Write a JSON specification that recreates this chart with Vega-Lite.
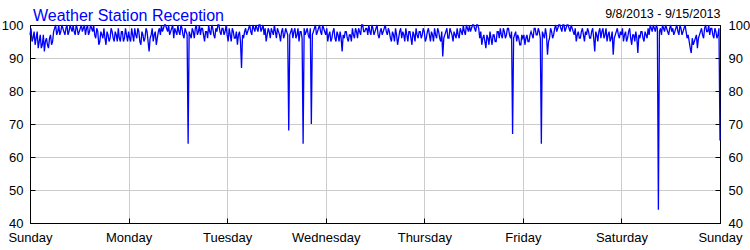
{
"$schema": "https://vega.github.io/schema/vega-lite/v6.json",
"width": 690, "height": 198,
"autosize": {"type": "none"},
"padding": {"left": 30, "top": 25, "right": 30, "bottom": 27},
"background": "white",
"title": {"text": "Weather Station Reception", "anchor": "start", "frame": "group", "color": "#0000ff", "font": "Liberation Sans", "fontSize": 16, "fontWeight": "normal", "dx": 3, "offset": -29, "baseline": "alphabetic"},
"data": {"values": [
{"t":"2013-09-08T00:00","v":97},{"t":"2013-09-08T00:15","v":99},{"t":"2013-09-08T00:30","v":95},{"t":"2013-09-08T00:45","v":96},{"t":"2013-09-08T01:00","v":98},{"t":"2013-09-08T01:15","v":94},{"t":"2013-09-08T01:30","v":96},{"t":"2013-09-08T01:45","v":98},{"t":"2013-09-08T02:00","v":93},{"t":"2013-09-08T02:15","v":95},{"t":"2013-09-08T02:30","v":97},{"t":"2013-09-08T02:45","v":93},
{"t":"2013-09-08T03:00","v":94},{"t":"2013-09-08T03:15","v":97},{"t":"2013-09-08T03:30","v":92},{"t":"2013-09-08T03:45","v":95},{"t":"2013-09-08T04:00","v":96},{"t":"2013-09-08T04:15","v":94},{"t":"2013-09-08T04:30","v":93},{"t":"2013-09-08T04:45","v":96},{"t":"2013-09-08T05:00","v":97},{"t":"2013-09-08T05:15","v":94},{"t":"2013-09-08T05:30","v":95},{"t":"2013-09-08T05:45","v":98},
{"t":"2013-09-08T06:00","v":99},{"t":"2013-09-08T06:15","v":100},{"t":"2013-09-08T06:30","v":97},{"t":"2013-09-08T06:45","v":98},{"t":"2013-09-08T07:00","v":100},{"t":"2013-09-08T07:15","v":97},{"t":"2013-09-08T07:30","v":98},{"t":"2013-09-08T07:45","v":100},{"t":"2013-09-08T08:00","v":99},{"t":"2013-09-08T08:15","v":98},{"t":"2013-09-08T08:30","v":97},{"t":"2013-09-08T08:45","v":99},
{"t":"2013-09-08T09:00","v":100},{"t":"2013-09-08T09:15","v":97},{"t":"2013-09-08T09:30","v":98},{"t":"2013-09-08T09:45","v":100},{"t":"2013-09-08T10:00","v":99},{"t":"2013-09-08T10:15","v":98},{"t":"2013-09-08T10:30","v":100},{"t":"2013-09-08T10:45","v":98},{"t":"2013-09-08T11:00","v":97},{"t":"2013-09-08T11:15","v":100},{"t":"2013-09-08T11:30","v":99},{"t":"2013-09-08T11:45","v":97},
{"t":"2013-09-08T12:00","v":98},{"t":"2013-09-08T12:15","v":99},{"t":"2013-09-08T12:30","v":100},{"t":"2013-09-08T12:45","v":98},{"t":"2013-09-08T13:00","v":99},{"t":"2013-09-08T13:15","v":100},{"t":"2013-09-08T13:30","v":97},{"t":"2013-09-08T13:45","v":99},{"t":"2013-09-08T14:00","v":100},{"t":"2013-09-08T14:15","v":97},{"t":"2013-09-08T14:30","v":98},{"t":"2013-09-08T14:45","v":100},
{"t":"2013-09-08T15:00","v":99},{"t":"2013-09-08T15:15","v":98},{"t":"2013-09-08T15:30","v":100},{"t":"2013-09-08T15:45","v":97},{"t":"2013-09-08T16:00","v":96},{"t":"2013-09-08T16:15","v":99},{"t":"2013-09-08T16:30","v":98},{"t":"2013-09-08T16:45","v":94},{"t":"2013-09-08T17:00","v":95},{"t":"2013-09-08T17:15","v":98},{"t":"2013-09-08T17:30","v":97},{"t":"2013-09-08T17:45","v":96},
{"t":"2013-09-08T18:00","v":99},{"t":"2013-09-08T18:15","v":96},{"t":"2013-09-08T18:30","v":94},{"t":"2013-09-08T18:45","v":98},{"t":"2013-09-08T19:00","v":97},{"t":"2013-09-08T19:15","v":95},{"t":"2013-09-08T19:30","v":96},{"t":"2013-09-08T19:45","v":99},{"t":"2013-09-08T20:00","v":98},{"t":"2013-09-08T20:15","v":96},{"t":"2013-09-08T20:30","v":95},{"t":"2013-09-08T20:45","v":98},
{"t":"2013-09-08T21:00","v":97},{"t":"2013-09-08T21:15","v":95},{"t":"2013-09-08T21:30","v":99},{"t":"2013-09-08T21:45","v":96},{"t":"2013-09-08T22:00","v":95},{"t":"2013-09-08T22:15","v":98},{"t":"2013-09-08T22:30","v":98},{"t":"2013-09-08T22:45","v":95},{"t":"2013-09-08T23:00","v":96},{"t":"2013-09-08T23:15","v":99},{"t":"2013-09-08T23:30","v":97},{"t":"2013-09-08T23:45","v":95},
{"t":"2013-09-09T00:00","v":98},{"t":"2013-09-09T00:15","v":96},{"t":"2013-09-09T00:30","v":95},{"t":"2013-09-09T00:45","v":99},{"t":"2013-09-09T01:00","v":97},{"t":"2013-09-09T01:15","v":95},{"t":"2013-09-09T01:30","v":99},{"t":"2013-09-09T01:45","v":97},{"t":"2013-09-09T02:00","v":96},{"t":"2013-09-09T02:15","v":99},{"t":"2013-09-09T02:30","v":98},{"t":"2013-09-09T02:45","v":95},
{"t":"2013-09-09T03:00","v":94},{"t":"2013-09-09T03:15","v":98},{"t":"2013-09-09T03:30","v":97},{"t":"2013-09-09T03:45","v":95},{"t":"2013-09-09T04:00","v":96},{"t":"2013-09-09T04:15","v":99},{"t":"2013-09-09T04:30","v":98},{"t":"2013-09-09T04:45","v":95},{"t":"2013-09-09T05:00","v":92},{"t":"2013-09-09T05:15","v":96},{"t":"2013-09-09T05:30","v":97},{"t":"2013-09-09T05:45","v":99},
{"t":"2013-09-09T06:00","v":95},{"t":"2013-09-09T06:15","v":97},{"t":"2013-09-09T06:30","v":98},{"t":"2013-09-09T06:45","v":94},{"t":"2013-09-09T07:00","v":96},{"t":"2013-09-09T07:15","v":98},{"t":"2013-09-09T07:30","v":99},{"t":"2013-09-09T07:45","v":97},{"t":"2013-09-09T08:00","v":100},{"t":"2013-09-09T08:15","v":98},{"t":"2013-09-09T08:30","v":99},{"t":"2013-09-09T08:45","v":100},
{"t":"2013-09-09T09:00","v":100},{"t":"2013-09-09T09:15","v":99},{"t":"2013-09-09T09:30","v":98},{"t":"2013-09-09T09:45","v":100},{"t":"2013-09-09T10:00","v":97},{"t":"2013-09-09T10:15","v":98},{"t":"2013-09-09T10:30","v":99},{"t":"2013-09-09T10:45","v":100},{"t":"2013-09-09T11:00","v":96},{"t":"2013-09-09T11:15","v":99},{"t":"2013-09-09T11:30","v":98},{"t":"2013-09-09T11:45","v":97},
{"t":"2013-09-09T12:00","v":100},{"t":"2013-09-09T12:15","v":98},{"t":"2013-09-09T12:30","v":97},{"t":"2013-09-09T12:45","v":100},{"t":"2013-09-09T13:00","v":99},{"t":"2013-09-09T13:15","v":97},{"t":"2013-09-09T13:30","v":96},{"t":"2013-09-09T13:45","v":99},{"t":"2013-09-09T14:00","v":98},{"t":"2013-09-09T14:15","v":97},{"t":"2013-09-09T14:30","v":64},{"t":"2013-09-09T14:45","v":98},
{"t":"2013-09-09T15:00","v":97},{"t":"2013-09-09T15:15","v":96},{"t":"2013-09-09T15:30","v":99},{"t":"2013-09-09T15:45","v":98},{"t":"2013-09-09T16:00","v":96},{"t":"2013-09-09T16:15","v":99},{"t":"2013-09-09T16:30","v":100},{"t":"2013-09-09T16:45","v":97},{"t":"2013-09-09T17:00","v":98},{"t":"2013-09-09T17:15","v":100},{"t":"2013-09-09T17:30","v":97},{"t":"2013-09-09T17:45","v":99},
{"t":"2013-09-09T18:00","v":99},{"t":"2013-09-09T18:15","v":97},{"t":"2013-09-09T18:30","v":95},{"t":"2013-09-09T18:45","v":98},{"t":"2013-09-09T19:00","v":98},{"t":"2013-09-09T19:15","v":96},{"t":"2013-09-09T19:30","v":100},{"t":"2013-09-09T19:45","v":98},{"t":"2013-09-09T20:00","v":97},{"t":"2013-09-09T20:15","v":100},{"t":"2013-09-09T20:30","v":99},{"t":"2013-09-09T20:45","v":97},
{"t":"2013-09-09T21:00","v":96},{"t":"2013-09-09T21:15","v":99},{"t":"2013-09-09T21:30","v":98},{"t":"2013-09-09T21:45","v":100},{"t":"2013-09-09T22:00","v":100},{"t":"2013-09-09T22:15","v":98},{"t":"2013-09-09T22:30","v":97},{"t":"2013-09-09T22:45","v":99},{"t":"2013-09-09T23:00","v":99},{"t":"2013-09-09T23:15","v":97},{"t":"2013-09-09T23:30","v":98},{"t":"2013-09-09T23:45","v":100},
{"t":"2013-09-10T00:00","v":97},{"t":"2013-09-10T00:15","v":95},{"t":"2013-09-10T00:30","v":99},{"t":"2013-09-10T00:45","v":97},{"t":"2013-09-10T01:00","v":95},{"t":"2013-09-10T01:15","v":99},{"t":"2013-09-10T01:30","v":98},{"t":"2013-09-10T01:45","v":96},{"t":"2013-09-10T02:00","v":96},{"t":"2013-09-10T02:15","v":98},{"t":"2013-09-10T02:30","v":94},{"t":"2013-09-10T02:45","v":97},
{"t":"2013-09-10T03:00","v":98},{"t":"2013-09-10T03:15","v":95},{"t":"2013-09-10T03:30","v":87},{"t":"2013-09-10T03:45","v":97},{"t":"2013-09-10T04:00","v":96},{"t":"2013-09-10T04:15","v":98},{"t":"2013-09-10T04:30","v":99},{"t":"2013-09-10T04:45","v":97},{"t":"2013-09-10T05:00","v":98},{"t":"2013-09-10T05:15","v":99},{"t":"2013-09-10T05:30","v":100},{"t":"2013-09-10T05:45","v":98},
{"t":"2013-09-10T06:00","v":97},{"t":"2013-09-10T06:15","v":100},{"t":"2013-09-10T06:30","v":99},{"t":"2013-09-10T06:45","v":98},{"t":"2013-09-10T07:00","v":100},{"t":"2013-09-10T07:15","v":99},{"t":"2013-09-10T07:30","v":98},{"t":"2013-09-10T07:45","v":100},{"t":"2013-09-10T08:00","v":100},{"t":"2013-09-10T08:15","v":98},{"t":"2013-09-10T08:30","v":99},{"t":"2013-09-10T08:45","v":100},
{"t":"2013-09-10T09:00","v":97},{"t":"2013-09-10T09:15","v":99},{"t":"2013-09-10T09:30","v":95},{"t":"2013-09-10T09:45","v":97},{"t":"2013-09-10T10:00","v":99},{"t":"2013-09-10T10:15","v":98},{"t":"2013-09-10T10:30","v":96},{"t":"2013-09-10T10:45","v":99},{"t":"2013-09-10T11:00","v":98},{"t":"2013-09-10T11:15","v":97},{"t":"2013-09-10T11:30","v":100},{"t":"2013-09-10T11:45","v":98},
{"t":"2013-09-10T12:00","v":96},{"t":"2013-09-10T12:15","v":99},{"t":"2013-09-10T12:30","v":98},{"t":"2013-09-10T12:45","v":97},{"t":"2013-09-10T13:00","v":95},{"t":"2013-09-10T13:15","v":98},{"t":"2013-09-10T13:30","v":99},{"t":"2013-09-10T13:45","v":96},{"t":"2013-09-10T14:00","v":97},{"t":"2013-09-10T14:15","v":99},{"t":"2013-09-10T14:30","v":98},{"t":"2013-09-10T14:45","v":97},
{"t":"2013-09-10T15:00","v":68},{"t":"2013-09-10T15:15","v":97},{"t":"2013-09-10T15:30","v":98},{"t":"2013-09-10T15:45","v":99},{"t":"2013-09-10T16:00","v":96},{"t":"2013-09-10T16:15","v":98},{"t":"2013-09-10T16:30","v":99},{"t":"2013-09-10T16:45","v":96},{"t":"2013-09-10T17:00","v":97},{"t":"2013-09-10T17:15","v":99},{"t":"2013-09-10T17:30","v":95},{"t":"2013-09-10T17:45","v":98},
{"t":"2013-09-10T18:00","v":98},{"t":"2013-09-10T18:15","v":96},{"t":"2013-09-10T18:30","v":64},{"t":"2013-09-10T18:45","v":99},{"t":"2013-09-10T19:00","v":97},{"t":"2013-09-10T19:15","v":98},{"t":"2013-09-10T19:30","v":99},{"t":"2013-09-10T19:45","v":97},{"t":"2013-09-10T20:00","v":96},{"t":"2013-09-10T20:15","v":99},{"t":"2013-09-10T20:30","v":70},{"t":"2013-09-10T20:45","v":97},
{"t":"2013-09-10T21:00","v":98},{"t":"2013-09-10T21:15","v":99},{"t":"2013-09-10T21:30","v":100},{"t":"2013-09-10T21:45","v":97},{"t":"2013-09-10T22:00","v":98},{"t":"2013-09-10T22:15","v":99},{"t":"2013-09-10T22:30","v":100},{"t":"2013-09-10T22:45","v":98},{"t":"2013-09-10T23:00","v":97},{"t":"2013-09-10T23:15","v":100},{"t":"2013-09-10T23:30","v":99},{"t":"2013-09-10T23:45","v":98},
{"t":"2013-09-11T00:00","v":97},{"t":"2013-09-11T00:15","v":99},{"t":"2013-09-11T00:30","v":95},{"t":"2013-09-11T00:45","v":97},{"t":"2013-09-11T01:00","v":98},{"t":"2013-09-11T01:15","v":95},{"t":"2013-09-11T01:30","v":96},{"t":"2013-09-11T01:45","v":98},{"t":"2013-09-11T02:00","v":99},{"t":"2013-09-11T02:15","v":96},{"t":"2013-09-11T02:30","v":95},{"t":"2013-09-11T02:45","v":98},
{"t":"2013-09-11T03:00","v":97},{"t":"2013-09-11T03:15","v":95},{"t":"2013-09-11T03:30","v":98},{"t":"2013-09-11T03:45","v":96},{"t":"2013-09-11T04:00","v":92},{"t":"2013-09-11T04:15","v":97},{"t":"2013-09-11T04:30","v":96},{"t":"2013-09-11T04:45","v":98},{"t":"2013-09-11T05:00","v":98},{"t":"2013-09-11T05:15","v":96},{"t":"2013-09-11T05:30","v":95},{"t":"2013-09-11T05:45","v":97},
{"t":"2013-09-11T06:00","v":97},{"t":"2013-09-11T06:15","v":95},{"t":"2013-09-11T06:30","v":99},{"t":"2013-09-11T06:45","v":97},{"t":"2013-09-11T07:00","v":96},{"t":"2013-09-11T07:15","v":99},{"t":"2013-09-11T07:30","v":98},{"t":"2013-09-11T07:45","v":96},{"t":"2013-09-11T08:00","v":99},{"t":"2013-09-11T08:15","v":98},{"t":"2013-09-11T08:30","v":97},{"t":"2013-09-11T08:45","v":100},
{"t":"2013-09-11T09:00","v":100},{"t":"2013-09-11T09:15","v":98},{"t":"2013-09-11T09:30","v":98},{"t":"2013-09-11T09:45","v":99},{"t":"2013-09-11T10:00","v":99},{"t":"2013-09-11T10:15","v":97},{"t":"2013-09-11T10:30","v":100},{"t":"2013-09-11T10:45","v":98},{"t":"2013-09-11T11:00","v":97},{"t":"2013-09-11T11:15","v":100},{"t":"2013-09-11T11:30","v":99},{"t":"2013-09-11T11:45","v":97},
{"t":"2013-09-11T12:00","v":98},{"t":"2013-09-11T12:15","v":99},{"t":"2013-09-11T12:30","v":100},{"t":"2013-09-11T12:45","v":97},{"t":"2013-09-11T13:00","v":96},{"t":"2013-09-11T13:15","v":98},{"t":"2013-09-11T13:30","v":99},{"t":"2013-09-11T13:45","v":97},{"t":"2013-09-11T14:00","v":98},{"t":"2013-09-11T14:15","v":99},{"t":"2013-09-11T14:30","v":100},{"t":"2013-09-11T14:45","v":98},
{"t":"2013-09-11T15:00","v":97},{"t":"2013-09-11T15:15","v":99},{"t":"2013-09-11T15:30","v":98},{"t":"2013-09-11T15:45","v":96},{"t":"2013-09-11T16:00","v":95},{"t":"2013-09-11T16:15","v":98},{"t":"2013-09-11T16:30","v":97},{"t":"2013-09-11T16:45","v":95},{"t":"2013-09-11T17:00","v":99},{"t":"2013-09-11T17:15","v":97},{"t":"2013-09-11T17:30","v":94},{"t":"2013-09-11T17:45","v":96},
{"t":"2013-09-11T18:00","v":98},{"t":"2013-09-11T18:15","v":99},{"t":"2013-09-11T18:30","v":96},{"t":"2013-09-11T18:45","v":98},{"t":"2013-09-11T19:00","v":97},{"t":"2013-09-11T19:15","v":95},{"t":"2013-09-11T19:30","v":99},{"t":"2013-09-11T19:45","v":97},{"t":"2013-09-11T20:00","v":95},{"t":"2013-09-11T20:15","v":98},{"t":"2013-09-11T20:30","v":98},{"t":"2013-09-11T20:45","v":96},
{"t":"2013-09-11T21:00","v":94},{"t":"2013-09-11T21:15","v":98},{"t":"2013-09-11T21:30","v":97},{"t":"2013-09-11T21:45","v":95},{"t":"2013-09-11T22:00","v":99},{"t":"2013-09-11T22:15","v":97},{"t":"2013-09-11T22:30","v":96},{"t":"2013-09-11T22:45","v":98},{"t":"2013-09-11T23:00","v":98},{"t":"2013-09-11T23:15","v":96},{"t":"2013-09-11T23:30","v":97},{"t":"2013-09-11T23:45","v":99},
{"t":"2013-09-12T00:00","v":98},{"t":"2013-09-12T00:15","v":95},{"t":"2013-09-12T00:30","v":96},{"t":"2013-09-12T00:45","v":98},{"t":"2013-09-12T01:00","v":99},{"t":"2013-09-12T01:15","v":97},{"t":"2013-09-12T01:30","v":95},{"t":"2013-09-12T01:45","v":98},{"t":"2013-09-12T02:00","v":97},{"t":"2013-09-12T02:15","v":95},{"t":"2013-09-12T02:30","v":99},{"t":"2013-09-12T02:45","v":97},
{"t":"2013-09-12T03:00","v":96},{"t":"2013-09-12T03:15","v":99},{"t":"2013-09-12T03:30","v":98},{"t":"2013-09-12T03:45","v":96},{"t":"2013-09-12T04:00","v":95},{"t":"2013-09-12T04:15","v":98},{"t":"2013-09-12T04:30","v":90.5},{"t":"2013-09-12T04:45","v":96},{"t":"2013-09-12T05:00","v":97},{"t":"2013-09-12T05:15","v":98},{"t":"2013-09-12T05:30","v":99},{"t":"2013-09-12T05:45","v":96},
{"t":"2013-09-12T06:00","v":96},{"t":"2013-09-12T06:15","v":99},{"t":"2013-09-12T06:30","v":98},{"t":"2013-09-12T06:45","v":97},{"t":"2013-09-12T07:00","v":95},{"t":"2013-09-12T07:15","v":98},{"t":"2013-09-12T07:30","v":97},{"t":"2013-09-12T07:45","v":96},{"t":"2013-09-12T08:00","v":99},{"t":"2013-09-12T08:15","v":97},{"t":"2013-09-12T08:30","v":96},{"t":"2013-09-12T08:45","v":99},
{"t":"2013-09-12T09:00","v":98},{"t":"2013-09-12T09:15","v":97},{"t":"2013-09-12T09:30","v":100},{"t":"2013-09-12T09:45","v":98},{"t":"2013-09-12T10:00","v":97},{"t":"2013-09-12T10:15","v":100},{"t":"2013-09-12T10:30","v":99},{"t":"2013-09-12T10:45","v":98},{"t":"2013-09-12T11:00","v":100},{"t":"2013-09-12T11:15","v":98},{"t":"2013-09-12T11:30","v":99},{"t":"2013-09-12T11:45","v":100},
{"t":"2013-09-12T12:00","v":100},{"t":"2013-09-12T12:15","v":99},{"t":"2013-09-12T12:30","v":98},{"t":"2013-09-12T12:45","v":100},{"t":"2013-09-12T13:00","v":100},{"t":"2013-09-12T13:15","v":99},{"t":"2013-09-12T13:30","v":96},{"t":"2013-09-12T13:45","v":98},{"t":"2013-09-12T14:00","v":94},{"t":"2013-09-12T14:15","v":96},{"t":"2013-09-12T14:30","v":97},{"t":"2013-09-12T14:45","v":95},
{"t":"2013-09-12T15:00","v":93},{"t":"2013-09-12T15:15","v":97},{"t":"2013-09-12T15:30","v":96},{"t":"2013-09-12T15:45","v":94},{"t":"2013-09-12T16:00","v":98},{"t":"2013-09-12T16:15","v":96},{"t":"2013-09-12T16:30","v":94},{"t":"2013-09-12T16:45","v":97},{"t":"2013-09-12T17:00","v":97},{"t":"2013-09-12T17:15","v":95},{"t":"2013-09-12T17:30","v":95},{"t":"2013-09-12T17:45","v":98},
{"t":"2013-09-12T18:00","v":98},{"t":"2013-09-12T18:15","v":96},{"t":"2013-09-12T18:30","v":99},{"t":"2013-09-12T18:45","v":97},{"t":"2013-09-12T19:00","v":96},{"t":"2013-09-12T19:15","v":99},{"t":"2013-09-12T19:30","v":98},{"t":"2013-09-12T19:45","v":96},{"t":"2013-09-12T20:00","v":97},{"t":"2013-09-12T20:15","v":99},{"t":"2013-09-12T20:30","v":99},{"t":"2013-09-12T20:45","v":97},
{"t":"2013-09-12T21:00","v":96},{"t":"2013-09-12T21:15","v":98},{"t":"2013-09-12T21:30","v":67},{"t":"2013-09-12T21:45","v":96},{"t":"2013-09-12T22:00","v":97},{"t":"2013-09-12T22:15","v":98},{"t":"2013-09-12T22:30","v":95},{"t":"2013-09-12T22:45","v":97},{"t":"2013-09-12T23:00","v":96},{"t":"2013-09-12T23:15","v":94},{"t":"2013-09-12T23:30","v":94},{"t":"2013-09-12T23:45","v":97},
{"t":"2013-09-13T00:00","v":96},{"t":"2013-09-13T00:15","v":97},{"t":"2013-09-13T00:30","v":94},{"t":"2013-09-13T00:45","v":96},{"t":"2013-09-13T01:00","v":97},{"t":"2013-09-13T01:15","v":95},{"t":"2013-09-13T01:30","v":95},{"t":"2013-09-13T01:45","v":97},{"t":"2013-09-13T02:00","v":98},{"t":"2013-09-13T02:15","v":97},{"t":"2013-09-13T02:30","v":96},{"t":"2013-09-13T02:45","v":99},
{"t":"2013-09-13T03:00","v":99},{"t":"2013-09-13T03:15","v":97},{"t":"2013-09-13T03:30","v":97},{"t":"2013-09-13T03:45","v":99},{"t":"2013-09-13T04:00","v":98},{"t":"2013-09-13T04:15","v":96},{"t":"2013-09-13T04:30","v":64},{"t":"2013-09-13T04:45","v":98},{"t":"2013-09-13T05:00","v":97},{"t":"2013-09-13T05:15","v":96},{"t":"2013-09-13T05:30","v":99},{"t":"2013-09-13T05:45","v":97},
{"t":"2013-09-13T06:00","v":91},{"t":"2013-09-13T06:15","v":95},{"t":"2013-09-13T06:30","v":96},{"t":"2013-09-13T06:45","v":99},{"t":"2013-09-13T07:00","v":98},{"t":"2013-09-13T07:15","v":96},{"t":"2013-09-13T07:30","v":97},{"t":"2013-09-13T07:45","v":99},{"t":"2013-09-13T08:00","v":100},{"t":"2013-09-13T08:15","v":98},{"t":"2013-09-13T08:30","v":99},{"t":"2013-09-13T08:45","v":100},
{"t":"2013-09-13T09:00","v":100},{"t":"2013-09-13T09:15","v":99},{"t":"2013-09-13T09:30","v":98},{"t":"2013-09-13T09:45","v":100},{"t":"2013-09-13T10:00","v":100},{"t":"2013-09-13T10:15","v":98},{"t":"2013-09-13T10:30","v":99},{"t":"2013-09-13T10:45","v":100},{"t":"2013-09-13T11:00","v":100},{"t":"2013-09-13T11:15","v":99},{"t":"2013-09-13T11:30","v":98},{"t":"2013-09-13T11:45","v":100},
{"t":"2013-09-13T12:00","v":99},{"t":"2013-09-13T12:15","v":98},{"t":"2013-09-13T12:30","v":97},{"t":"2013-09-13T12:45","v":99},{"t":"2013-09-13T13:00","v":95},{"t":"2013-09-13T13:15","v":97},{"t":"2013-09-13T13:30","v":98},{"t":"2013-09-13T13:45","v":96},{"t":"2013-09-13T14:00","v":96},{"t":"2013-09-13T14:15","v":98},{"t":"2013-09-13T14:30","v":99},{"t":"2013-09-13T14:45","v":97},
{"t":"2013-09-13T15:00","v":95},{"t":"2013-09-13T15:15","v":98},{"t":"2013-09-13T15:30","v":97},{"t":"2013-09-13T15:45","v":99},{"t":"2013-09-13T16:00","v":98},{"t":"2013-09-13T16:15","v":96},{"t":"2013-09-13T16:30","v":96},{"t":"2013-09-13T16:45","v":98},{"t":"2013-09-13T17:00","v":99},{"t":"2013-09-13T17:15","v":96},{"t":"2013-09-13T17:30","v":92},{"t":"2013-09-13T17:45","v":98},
{"t":"2013-09-13T18:00","v":97},{"t":"2013-09-13T18:15","v":95},{"t":"2013-09-13T18:30","v":98},{"t":"2013-09-13T18:45","v":99},{"t":"2013-09-13T19:00","v":96},{"t":"2013-09-13T19:15","v":98},{"t":"2013-09-13T19:30","v":99},{"t":"2013-09-13T19:45","v":96},{"t":"2013-09-13T20:00","v":97},{"t":"2013-09-13T20:15","v":99},{"t":"2013-09-13T20:30","v":95},{"t":"2013-09-13T20:45","v":97},
{"t":"2013-09-13T21:00","v":98},{"t":"2013-09-13T21:15","v":95},{"t":"2013-09-13T21:30","v":96},{"t":"2013-09-13T21:45","v":98},{"t":"2013-09-13T22:00","v":91},{"t":"2013-09-13T22:15","v":96},{"t":"2013-09-13T22:30","v":97},{"t":"2013-09-13T22:45","v":98},{"t":"2013-09-13T23:00","v":99},{"t":"2013-09-13T23:15","v":97},{"t":"2013-09-13T23:30","v":96},{"t":"2013-09-13T23:45","v":98},
{"t":"2013-09-14T00:00","v":97},{"t":"2013-09-14T00:15","v":99},{"t":"2013-09-14T00:30","v":95},{"t":"2013-09-14T00:45","v":97},{"t":"2013-09-14T01:00","v":98},{"t":"2013-09-14T01:15","v":95},{"t":"2013-09-14T01:30","v":96},{"t":"2013-09-14T01:45","v":98},{"t":"2013-09-14T02:00","v":99},{"t":"2013-09-14T02:15","v":96},{"t":"2013-09-14T02:30","v":94},{"t":"2013-09-14T02:45","v":97},
{"t":"2013-09-14T03:00","v":97},{"t":"2013-09-14T03:15","v":95},{"t":"2013-09-14T03:30","v":98},{"t":"2013-09-14T03:45","v":96},{"t":"2013-09-14T04:00","v":91.5},{"t":"2013-09-14T04:15","v":97},{"t":"2013-09-14T04:30","v":96},{"t":"2013-09-14T04:45","v":98},{"t":"2013-09-14T05:00","v":98},{"t":"2013-09-14T05:15","v":96},{"t":"2013-09-14T05:30","v":95},{"t":"2013-09-14T05:45","v":98},
{"t":"2013-09-14T06:00","v":97},{"t":"2013-09-14T06:15","v":96},{"t":"2013-09-14T06:30","v":99},{"t":"2013-09-14T06:45","v":97},{"t":"2013-09-14T07:00","v":100},{"t":"2013-09-14T07:15","v":99},{"t":"2013-09-14T07:30","v":98},{"t":"2013-09-14T07:45","v":100},{"t":"2013-09-14T08:00","v":99},{"t":"2013-09-14T08:15","v":98},{"t":"2013-09-14T08:30","v":100},{"t":"2013-09-14T08:45","v":99},
{"t":"2013-09-14T09:00","v":44},{"t":"2013-09-14T09:15","v":98},{"t":"2013-09-14T09:30","v":99},{"t":"2013-09-14T09:45","v":97},{"t":"2013-09-14T10:00","v":100},{"t":"2013-09-14T10:15","v":99},{"t":"2013-09-14T10:30","v":98},{"t":"2013-09-14T10:45","v":100},{"t":"2013-09-14T11:00","v":99},{"t":"2013-09-14T11:15","v":98},{"t":"2013-09-14T11:30","v":97},{"t":"2013-09-14T11:45","v":99},
{"t":"2013-09-14T12:00","v":100},{"t":"2013-09-14T12:15","v":98},{"t":"2013-09-14T12:30","v":99},{"t":"2013-09-14T12:45","v":97},{"t":"2013-09-14T13:00","v":98},{"t":"2013-09-14T13:15","v":99},{"t":"2013-09-14T13:30","v":100},{"t":"2013-09-14T13:45","v":98},{"t":"2013-09-14T14:00","v":97},{"t":"2013-09-14T14:15","v":100},{"t":"2013-09-14T14:30","v":99},{"t":"2013-09-14T14:45","v":97},
{"t":"2013-09-14T15:00","v":98},{"t":"2013-09-14T15:15","v":99},{"t":"2013-09-14T15:30","v":100},{"t":"2013-09-14T15:45","v":98},{"t":"2013-09-14T16:00","v":96},{"t":"2013-09-14T16:15","v":97},{"t":"2013-09-14T16:30","v":95},{"t":"2013-09-14T16:45","v":93},{"t":"2013-09-14T17:00","v":91.5},{"t":"2013-09-14T17:15","v":96},{"t":"2013-09-14T17:30","v":94},{"t":"2013-09-14T17:45","v":95},
{"t":"2013-09-14T18:00","v":96},{"t":"2013-09-14T18:15","v":97},{"t":"2013-09-14T18:30","v":93},{"t":"2013-09-14T18:45","v":96},{"t":"2013-09-14T19:00","v":97},{"t":"2013-09-14T19:15","v":98},{"t":"2013-09-14T19:30","v":99},{"t":"2013-09-14T19:45","v":97},{"t":"2013-09-14T20:00","v":96},{"t":"2013-09-14T20:15","v":99},{"t":"2013-09-14T20:30","v":100},{"t":"2013-09-14T20:45","v":98},
{"t":"2013-09-14T21:00","v":98},{"t":"2013-09-14T21:15","v":100},{"t":"2013-09-14T21:30","v":97},{"t":"2013-09-14T21:45","v":99},{"t":"2013-09-14T22:00","v":99},{"t":"2013-09-14T22:15","v":97},{"t":"2013-09-14T22:30","v":96},{"t":"2013-09-14T22:45","v":99},{"t":"2013-09-14T23:00","v":98},{"t":"2013-09-14T23:15","v":96},{"t":"2013-09-14T23:30","v":97},{"t":"2013-09-14T23:45","v":99},
{"t":"2013-09-15T00:00","v":65}
]},
"layer": [
{"mark": {"type": "line", "color": "#0000ff", "strokeWidth": 1.3},
 "encoding": {
  "x": {"field": "t", "type": "temporal",
        "scale": {"domain": [{"year": 2013, "month": 9, "date": 8}, {"year": 2013, "month": 9, "date": 15}], "nice": false},
        "axis": {"orient": "bottom", "title": null, "format": "%A", "tickCount": {"interval": "day", "step": 1}, "grid": true, "labelPadding": 13, "tickSize": -5, "labelFlush": false, "labelOverlap": false}},
  "y": {"field": "v", "type": "quantitative",
        "scale": {"domain": [40, 100], "nice": false, "zero": false},
        "axis": {"orient": "left", "title": null, "values": [40, 50, 60, 70, 80, 90, 100], "grid": true, "labelPadding": 12, "tickSize": -5}}
 }},
{"mark": {"type": "line", "strokeOpacity": 0},
 "encoding": {
  "x": {"field": "t", "type": "temporal",
        "axis": {"orient": "top", "title": "9/8/2013 - 9/15/2013", "labels": false, "ticks": false, "grid": false, "titleAnchor": "end", "titlePadding": 4.5, "titleFontSize": 12.5, "titleFontWeight": "normal"}},
  "y": {"field": "v", "type": "quantitative",
        "axis": {"orient": "right", "title": null, "values": [40, 50, 60, 70, 80, 90, 100], "grid": false, "labelPadding": 13, "tickSize": -5}}
 }}
],
"resolve": {"axis": {"x": "independent", "y": "independent"}},
"config": {
 "view": {"stroke": "#000", "strokeWidth": 1},
 "axis": {"labelFont": "Liberation Sans", "labelFontSize": 13, "labelColor": "#000", "domainColor": "#000", "tickColor": "#000", "gridColor": "#cccccc", "titleFont": "Liberation Sans", "titleColor": "#000"}
}
}
